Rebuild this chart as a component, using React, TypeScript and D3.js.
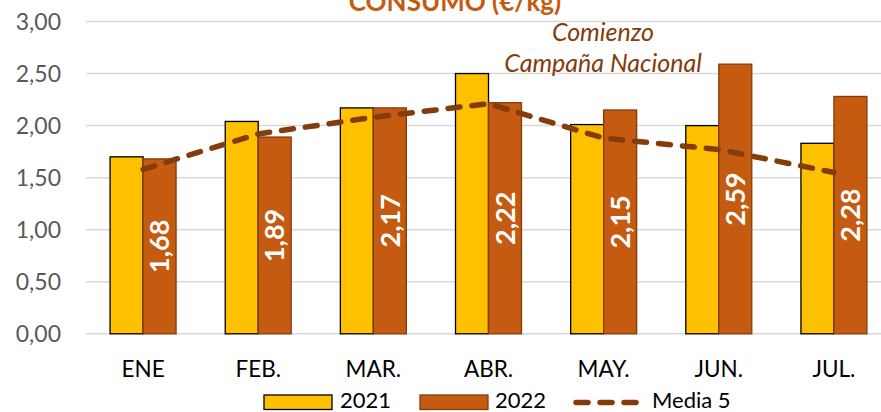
import React from "react";
import * as d3 from "d3";

const months = ["ENE", "FEB.", "MAR.", "ABR.", "MAY.", "JUN.", "JUL."];
const series = ["2021", "2022"];
const values2021 = [1.7, 2.04, 2.17, 2.5, 2.01, 2.0, 1.83];
const values2022 = [1.68, 1.89, 2.17, 2.22, 2.15, 2.59, 2.28];
const media5 = [1.58, 1.92, 2.08, 2.21, 1.88, 1.77, 1.55];
const yTicks = [0, 0.5, 1, 1.5, 2, 2.5, 3];

const W = 881;
const H = 412;
const FONT = "Lato, 'Noto Sans', sans-serif";

const fmt = (v: number) => v.toFixed(2).replace(".", ",");

export default function App() {
  const x = d3.scaleBand<string>()
    .domain(months)
    .range([85.5, 891.5])
    .paddingInner(0.427)
    .paddingOuter(0.2135);
  const xs = d3.scaleBand<string>().domain(series).range([0, x.bandwidth()]);
  const y = d3.scaleLinear().domain([0, 3]).range([333.8, 21.5]);

  const line = d3.line<number>()
    .x((_, i) => (x(months[i]) as number) + x.bandwidth() / 2)
    .y(d => y(d));

  const bars2021 = values2021.map((v, i) => ({ m: months[i], v }));
  const bars2022 = values2022.map((v, i) => ({ m: months[i], v }));

  return (
    <svg width={W} height={H} style={{ position: "absolute", left: 0, top: 0 }} fontFamily={FONT}>
      <rect width={W} height={H} fill="#fff" />
      {/* gridlines */}
      {yTicks.map(t => (
        <line key={t} x1={86} x2={W} y1={y(t)} y2={y(t)} stroke="#D9D9D9" strokeWidth={1.5} />
      ))}
      {yTicks.map(t => (
        <text key={"l" + t} x={61} y={y(t)} dy="0.35em" textAnchor="end" fontSize={23} fill="#595959">
          {fmt(t)}
        </text>
      ))}
      {/* title, cut at top as in the source */}
      <text x={455} y={11} textAnchor="middle" fontSize={26} fontWeight="bold" fill="#C55A11">
        CONSUMO (€/kg)
      </text>
      {/* bars */}
      {bars2021.map(d => (
        <rect key={"a" + d.m} x={(x(d.m) as number) + (xs("2021") as number)} y={y(d.v)}
          width={xs.bandwidth()} height={y(0) - y(d.v)} fill="#FFC000" stroke="#000" strokeWidth={1.3} />
      ))}
      {bars2022.map(d => (
        <rect key={"b" + d.m} x={(x(d.m) as number) + (xs("2022") as number)} y={y(d.v)}
          width={xs.bandwidth()} height={y(0) - y(d.v)} fill="#C55A11" stroke="#843C0C" strokeWidth={1.3} />
      ))}
      {/* media line */}
      <path d={line(media5) || ""} fill="none" stroke="#843C0C" strokeWidth={5.5}
        strokeDasharray="12 12" strokeLinecap="round" />
      {/* value labels */}
      {bars2022.map(d => {
        const cx = (x(d.m) as number) + (xs("2022") as number) + xs.bandwidth() / 2;
        const cy = (y(d.v) + y(0)) / 2;
        return (
          <text key={"v" + d.m} transform={`translate(${cx},${cy}) rotate(-90)`} textAnchor="middle"
            dy="0.36em" fontSize={27} fontWeight="bold" fill="#fff">
            {fmt(d.v)}
          </text>
        );
      })}
      {/* x labels */}
      {months.map(m => (
        <text key={"x" + m} x={(x(m) as number) + x.bandwidth() / 2} y={377} textAnchor="middle"
          fontSize={22.5} fill="#000">
          {m}
        </text>
      ))}
      {/* annotation */}
      <text x={603} y={41} textAnchor="middle" fontSize={25} fontStyle="italic" fill="#843C0C">Comienzo</text>
      <text x={603} y={72} textAnchor="middle" fontSize={25} fontStyle="italic" fill="#843C0C">Campaña Nacional</text>
      {/* legend */}
      <g fontSize={22} fill="#000">
        <rect x={264} y={395} width={68} height={14.5} fill="#FFC000" stroke="#000" strokeWidth={1.3} />
        <text x={340} y={407.5}>2021</text>
        <rect x={420} y={395} width={68} height={14.5} fill="#C55A11" stroke="#843C0C" strokeWidth={1.3} />
        <text x={495} y={407.5}>2022</text>
        <line x1={576} x2={637} y1={402.5} y2={402.5} stroke="#843C0C" strokeWidth={5.5}
          strokeDasharray="12 12" strokeLinecap="round" />
        <text x={652} y={407.5}>Media 5</text>
      </g>
    </svg>
  );
}
